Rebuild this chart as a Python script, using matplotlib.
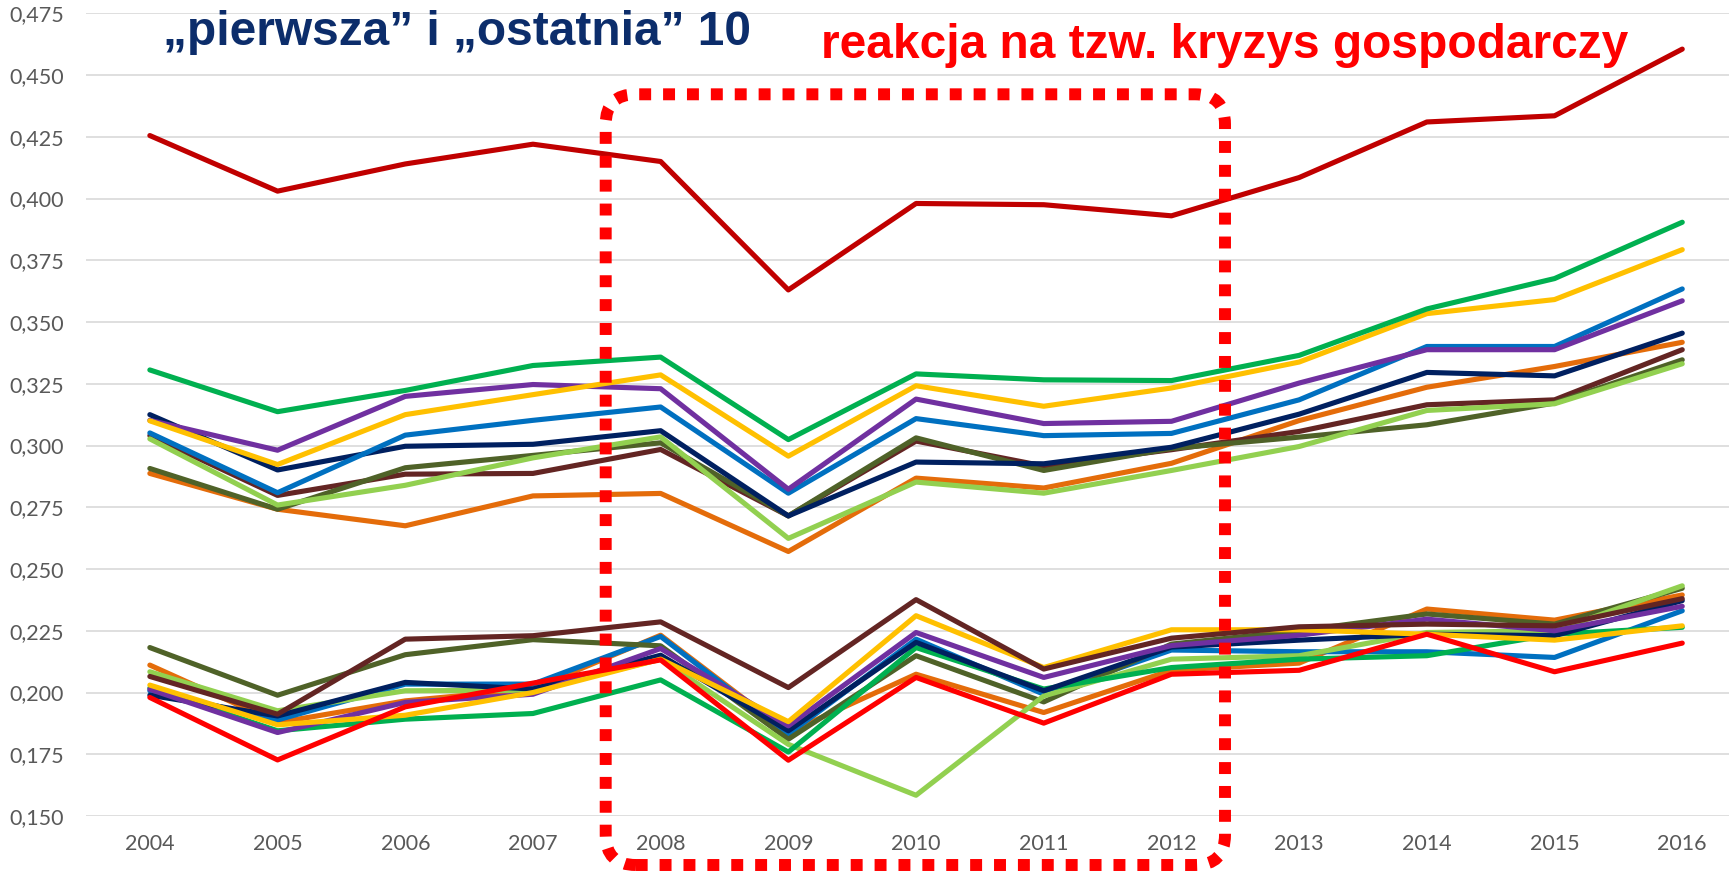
import matplotlib
matplotlib.use("Agg")
import matplotlib.pyplot as plt
from matplotlib.patches import FancyBboxPatch
from matplotlib.transforms import Affine2D

# ---------------- data ----------------
years = ["2004", "2005", "2006", "2007", "2008", "2009", "2010",
         "2011", "2012", "2013", "2014", "2015", "2016"]

y_ticks = [0.150, 0.175, 0.200, 0.225, 0.250, 0.275, 0.300, 0.325,
           0.350, 0.375, 0.400, 0.425, 0.450, 0.475]
y_tick_labels = ["0,150", "0,175", "0,200", "0,225", "0,250", "0,275", "0,300",
                 "0,325", "0,350", "0,375", "0,400", "0,425", "0,450", "0,475"]

# "pierwsza" 10 (top group)
top_darkred = [0.4255, 0.403, 0.414, 0.422, 0.415, 0.363, 0.398, 0.3975, 0.393, 0.4085, 0.431, 0.4335, 0.4605]
top_green = [0.3306, 0.3137, 0.3223, 0.3324, 0.3358, 0.3024, 0.329, 0.3266, 0.3263, 0.3365, 0.3553, 0.3676, 0.3904]
top_yellow = [0.310, 0.2923, 0.3125, 0.3206, 0.3286, 0.2957, 0.3242, 0.3159, 0.3233, 0.3338, 0.3534, 0.3591, 0.3793]
top_purple = [0.3102, 0.2981, 0.3199, 0.3247, 0.323, 0.2823, 0.3188, 0.3089, 0.3098, 0.3253, 0.3388, 0.3388, 0.3586]
top_blue = [0.3051, 0.2809, 0.3042, 0.3102, 0.3156, 0.2807, 0.3109, 0.304, 0.3049, 0.3185, 0.3401, 0.3401, 0.3634]
top_navy = [0.3125, 0.2901, 0.2997, 0.3005, 0.306, 0.2715, 0.2933, 0.2926, 0.2993, 0.3127, 0.3296, 0.3282, 0.3455]
top_brown = [0.304, 0.2798, 0.2884, 0.2887, 0.2984, 0.2715, 0.3018, 0.2917, 0.2983, 0.3057, 0.3165, 0.3185, 0.3388]
top_olive = [0.2907, 0.2742, 0.291, 0.296, 0.3011, 0.2715, 0.3031, 0.2899, 0.2988, 0.3034, 0.3084, 0.3172, 0.3347]
top_lightgreen = [0.3027, 0.2759, 0.2839, 0.295, 0.3035, 0.2624, 0.2852, 0.2807, 0.2899, 0.2996, 0.3142, 0.3169, 0.3331]
top_orange = [0.2887, 0.2742, 0.2675, 0.2796, 0.2806, 0.2571, 0.2868, 0.2828, 0.2928, 0.3101, 0.3236, 0.332, 0.3418]

# "ostatnia" 10 (bottom group)
bot_olive = [0.2182, 0.1989, 0.2153, 0.2214, 0.2189, 0.1811, 0.2149, 0.1962, 0.2196, 0.225, 0.2318, 0.2277, 0.2422]
bot_brown = [0.2065, 0.1912, 0.2216, 0.223, 0.2286, 0.202, 0.2376, 0.2095, 0.222, 0.2266, 0.2277, 0.227, 0.238]
bot_orange = [0.2111, 0.1878, 0.1966, 0.2015, 0.2232, 0.1838, 0.2074, 0.1919, 0.209, 0.2119, 0.2338, 0.2293, 0.2395]
bot_lightgreen = [0.2084, 0.1926, 0.2007, 0.2009, 0.2135, 0.179, 0.1584, 0.1986, 0.2135, 0.2149, 0.2243, 0.225, 0.2432]
bot_yellow = [0.203, 0.1869, 0.1908, 0.200, 0.2135, 0.1882, 0.2311, 0.2101, 0.2254, 0.2254, 0.2236, 0.2212, 0.227]
bot_green = [0.2018, 0.1845, 0.1892, 0.1915, 0.2051, 0.1759, 0.2182, 0.2014, 0.2101, 0.2135, 0.2149, 0.2236, 0.2264]
bot_navy = [0.1989, 0.1905, 0.2041, 0.2014, 0.2151, 0.1845, 0.2203, 0.2007, 0.2184, 0.2212, 0.2236, 0.223, 0.2372]
bot_blue = [0.2007, 0.1889, 0.2034, 0.2034, 0.2227, 0.1831, 0.2216, 0.1993, 0.2172, 0.2165, 0.2165, 0.2142, 0.2331]
bot_purple = [0.2013, 0.1838, 0.196, 0.1993, 0.2178, 0.1865, 0.2243, 0.2061, 0.219, 0.2232, 0.2297, 0.225, 0.2349]
bot_red = [0.198, 0.1727, 0.1942, 0.2038, 0.2132, 0.1726, 0.2061, 0.1876, 0.2074, 0.209, 0.2236, 0.2084, 0.22]

title_left = "„pierwsza” i „ostatnia” 10"
title_right = "reakcja na tzw. kryzys gospodarczy"

# ---------------- styles ----------------
C_DARKRED = "#C00000"
C_GREEN = "#00B050"
C_YELLOW = "#FFC000"
C_PURPLE = "#7030A0"
C_BLUE = "#0070C0"
C_NAVY = "#002060"
C_BROWN = "#632523"
C_OLIVE = "#4F6228"
C_LGREEN = "#92D050"
C_ORANGE = "#E46C0A"
C_RED = "#FF0000"

W, H = 1729, 872
fig = plt.figure(figsize=(W / 100, H / 100), dpi=100)
fig.patch.set_facecolor("white")

ax_left, ax_right = 86, 1729
ax_top, ax_bottom = 13.3, 816
ax = fig.add_axes([ax_left / W, (H - ax_bottom) / H,
                   (ax_right - ax_left) / W, (ax_bottom - ax_top) / H])

x = list(range(len(years)))
spacing = 127.7
ax.set_xlim(-0.5, -0.5 + (ax_right - ax_left) / spacing)
ax.set_ylim(0.150, 0.475)

for v in y_ticks:
    ax.axhline(v, color="#D9D9D9", lw=1.2, zorder=0)

lw = 3.7
kw = dict(lw=lw, solid_capstyle="round", solid_joinstyle="round")

series = [
    (bot_orange, C_ORANGE), (bot_blue, C_BLUE), (bot_olive, C_OLIVE),
    (bot_lightgreen, C_LGREEN), (bot_green, C_GREEN), (bot_navy, C_NAVY),
    (bot_purple, C_PURPLE), (bot_yellow, C_YELLOW), (bot_brown, C_BROWN),
    (bot_red, C_RED),
    (top_orange, C_ORANGE), (top_brown, C_BROWN), (top_olive, C_OLIVE),
    (top_lightgreen, C_LGREEN), (top_navy, C_NAVY), (top_blue, C_BLUE),
    (top_purple, C_PURPLE), (top_yellow, C_YELLOW), (top_green, C_GREEN),
    (top_darkred, C_DARKRED),
]
for vals, col in series:
    ax.plot(x, vals, color=col, **kw)

for s in ax.spines.values():
    s.set_visible(False)

ax.set_xticks(x)
ax.set_xticklabels(years, family="Lato", fontsize=15.5, color="#595959")
ax.set_yticks(y_ticks)
ax.set_yticklabels(y_tick_labels, family="Lato", fontsize=15.5, color="#595959")
ax.tick_params(axis="both", length=0)
ax.tick_params(axis="x", pad=13)
ax.tick_params(axis="y", pad=16)

# titles
fig.text(163 / W, 1 - 45 / H, title_left, family="Liberation Sans",
         fontweight="bold", fontsize=34.5, color="#0C2D6B", va="baseline", ha="left")
fig.text(821 / W, 1 - 58 / H, title_right, family="Liberation Sans",
         fontweight="bold", fontsize=34.5, color=C_RED, va="baseline", ha="left")

# dotted rounded rectangle (pixel coordinates)
pix = Affine2D().scale(1 / W, 1 / H) + fig.transFigure
rect = FancyBboxPatch((605.7, H - 865), 1225 - 605.7, 865 - 94.3,
                      boxstyle="round,pad=0,rounding_size=30",
                      fill=False, edgecolor=C_RED, lw=8.6,
                      linestyle=(0, (1, 1)), capstyle="butt",
                      transform=pix, zorder=10)
fig.add_artist(rect)

fig.savefig("out.png", dpi=100, facecolor="white")
